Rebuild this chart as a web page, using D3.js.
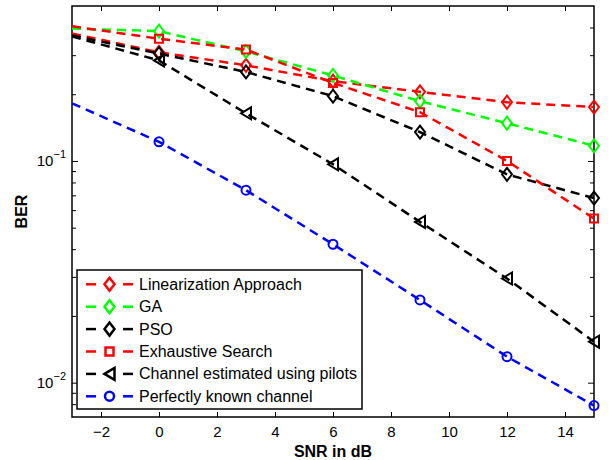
<!DOCTYPE html>
<html><head><meta charset="utf-8">
<script src="https://cdn.jsdelivr.net/npm/d3@7"></script>
<style>
body{margin:0;background:#fff;}
text{font-family:"Liberation Sans",Arial,Helvetica,sans-serif;}
</style></head>
<body><svg id="chart" width="611" height="460"></svg>
<script>
const snr = [-3, 0, 3, 6, 9, 12, 15];
const linearization = [0.376, 0.309, 0.270, 0.229, 0.205, 0.184, 0.175];
const ga = [0.396, 0.385, 0.312, 0.243, 0.186, 0.148, 0.117];
const pso = [0.368, 0.305, 0.252, 0.196, 0.135, 0.087, 0.068];
const exhaustive = [0.405, 0.356, 0.318, 0.225, 0.166, 0.100, 0.055];
const pilots = [0.3645, 0.284, 0.164, 0.0966, 0.0531, 0.0295, 0.0153];
const perfect = [0.182, 0.122, 0.0738, 0.0421, 0.0236, 0.0131, 0.00788];
const xTicks = [-2, 0, 2, 4, 6, 8, 10, 12, 14];
const yMajor = [0.01, 0.1];
const yMinor = [0.008, 0.009, 0.02, 0.03, 0.04, 0.05, 0.06, 0.07, 0.08, 0.09, 0.2, 0.3, 0.4];

const series = [
  {name: "Linearization Approach", values: linearization, color: "#ff0000", marker: "diamond"},
  {name: "GA", values: ga, color: "#00ff00", marker: "diamond"},
  {name: "PSO", values: pso, color: "#000000", marker: "diamond"},
  {name: "Exhaustive Search", values: exhaustive, color: "#ff0000", marker: "square"},
  {name: "Channel estimated using pilots", values: pilots, color: "#000000", marker: "triangle"},
  {name: "Perfectly known channel", values: perfect, color: "#0000ff", marker: "circle"}
];

const L = 72, R = 594, T = 6, B = 417;
const svg = d3.select("#chart");
const x = d3.scaleLinear().domain([-3, 15]).range([L, R]);
const y = d3.scaleLog().domain([0.007, 0.5]).range([B, T]);

svg.append("defs").append("clipPath").attr("id", "clip")
  .append("rect").attr("x", L).attr("y", T).attr("width", R - L).attr("height", B - T);

function markerPath(type) {
  if (type === "diamond") return "M0,-6.5L5,0L0,6.5L-5,0Z";
  if (type === "square") return "M-4,-4L4,-4L4,4L-4,4Z";
  if (type === "triangle") return "M-5,0L5,-6L5,6Z";
  return "M4.5,0A4.5,4.5 0 1,1 -4.5,0A4.5,4.5 0 1,1 4.5,0Z";
}

// axes
const gx = svg.append("g").attr("transform", `translate(0,${B})`)
  .call(d3.axisBottom(x).tickValues(xTicks).tickSize(-5).tickSizeOuter(0).tickPadding(9)
    .tickFormat(d => d < 0 ? "\u2212" + Math.abs(d) : d));
const gxt = svg.append("g").attr("transform", `translate(0,${T})`)
  .call(d3.axisTop(x).tickValues(xTicks).tickSize(-5).tickSizeOuter(0).tickFormat(""));
const gyl = svg.append("g").attr("transform", `translate(${L},0)`)
  .call(d3.axisLeft(y).tickValues(yMinor).tickSize(-4).tickSizeOuter(0).tickFormat(""));
const gyl2 = svg.append("g").attr("transform", `translate(${L},0)`)
  .call(d3.axisLeft(y).tickValues(yMajor).tickSize(-6).tickSizeOuter(0).tickFormat(""));
const gyr = svg.append("g").attr("transform", `translate(${R},0)`)
  .call(d3.axisRight(y).tickValues(yMinor).tickSize(-4).tickSizeOuter(0).tickFormat(""));
const gyr2 = svg.append("g").attr("transform", `translate(${R},0)`)
  .call(d3.axisRight(y).tickValues(yMajor).tickSize(-6).tickSizeOuter(0).tickFormat(""));
[gx, gxt, gyl, gyl2, gyr, gyr2].forEach(g => {
  g.select(".domain").remove();
  g.selectAll(".tick line").attr("stroke", "#000").attr("stroke-width", 1);
});
gx.selectAll(".tick text").attr("font-size", 15).attr("fill", "#000")
  .attr("font-family", "Liberation Sans, Arial, sans-serif");

// y major labels with superscripts
yMajor.forEach(v => {
  const t = svg.append("text").attr("x", L - 6).attr("y", y(v) + 5)
    .attr("text-anchor", "end").attr("font-size", 15).attr("fill", "#000");
  t.append("tspan").text("10");
  t.append("tspan").attr("dy", -8).attr("font-size", 11).text("\u2212" + Math.round(-Math.log10(v)));
});

// box
svg.append("rect").attr("x", L).attr("y", T).attr("width", R - L).attr("height", B - T)
  .attr("fill", "none").attr("stroke", "#000").attr("stroke-width", 1.5);

// axis labels
svg.append("text").attr("x", (L + R) / 2).attr("y", 457).attr("text-anchor", "middle")
  .attr("font-size", 16).attr("font-weight", "bold").text("SNR in dB");
svg.append("text").attr("transform", `translate(27,${(T + B) / 2}) rotate(-90)`)
  .attr("text-anchor", "middle").attr("font-size", 16).attr("font-weight", "bold").text("BER");

// lines
const line = d3.line().x(d => x(d[0])).y(d => y(d[1]));
const plot = svg.append("g");
series.forEach(s => {
  const pts = snr.map((v, i) => [v, s.values[i]]);
  plot.append("path").attr("d", line(pts)).attr("fill", "none")
    .attr("stroke", s.color).attr("stroke-width", 2.5).attr("stroke-dasharray", "9,6")
    .attr("clip-path", "url(#clip)");
  plot.selectAll(null).data(pts.filter(p => p[0] > x.domain()[0])).enter().append("path")
    .attr("d", markerPath(s.marker))
    .attr("transform", p => `translate(${x(p[0])},${y(p[1])})`)
    .attr("fill", "none").attr("stroke", s.color).attr("stroke-width", 2);
});

// legend
const lg = svg.append("g");
lg.append("rect").attr("x", 77).attr("y", 270).attr("width", 285).attr("height", 139)
  .attr("fill", "#fff").attr("stroke", "#000").attr("stroke-width", 1.5);
series.forEach((s, i) => {
  const cy = 284.3 + i * 22.4;
  lg.append("line").attr("x1", 86).attr("x2", 96).attr("y1", cy).attr("y2", cy)
    .attr("stroke", s.color).attr("stroke-width", 2.5);
  lg.append("line").attr("x1", 123).attr("x2", 133).attr("y1", cy).attr("y2", cy)
    .attr("stroke", s.color).attr("stroke-width", 2.5);
  lg.append("path").attr("d", markerPath(s.marker)).attr("transform", `translate(109.5,${cy})`)
    .attr("fill", "none").attr("stroke", s.color).attr("stroke-width", 2.5);
  lg.append("text").attr("x", 139).attr("y", cy + 5.5).attr("font-size", 16).attr("fill", "#000").text(s.name);
});
</script></body></html>
